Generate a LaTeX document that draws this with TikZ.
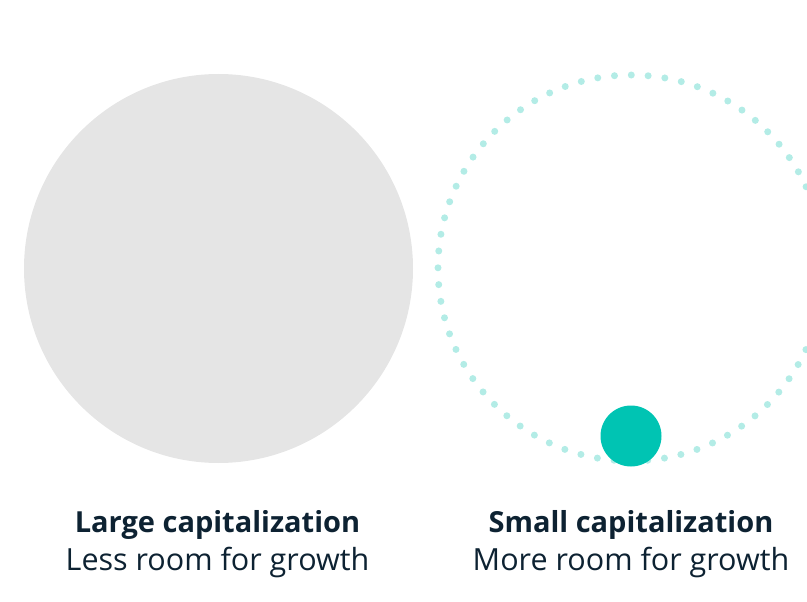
\documentclass[tikz,border=0pt]{standalone}
\usepackage{fontspec}
\setmainfont{Open Sans}
\definecolor{inkblue}{HTML}{0D2232}
\definecolor{bigfill}{HTML}{E5E5E5}
\definecolor{ringteal}{HTML}{B3ECE6}
\definecolor{dotteal}{HTML}{00C4B3}
\begin{document}
\begin{tikzpicture}[x=1pt,y=-1pt,
  title/.style={anchor=base,font=\fontsize{29}{34}\selectfont\bfseries,text=inkblue,inner sep=0pt},
  subtitle/.style={anchor=base,font=\fontsize{30.5}{36}\selectfont,text=inkblue,inner sep=0pt}]
  \useasboundingbox (0,0) rectangle (807,602);
  % large company
  \fill[bigfill] (218.5,268.5) circle[radius=194.5];
  % small company: dotted growth ring and the company itself
  \draw[ringteal,line width=7pt,line cap=round,dash pattern=on 0pt off 16.85pt] (631,268) circle[radius=193];
  \fill[dotteal] (631,436) circle[radius=30.5];
  % labels
  \node[title] (lt) at (217.5,532) {Large capitalization};
  \node[subtitle] (ls) at (217.5,570) {Less room for growth};
  \node[title] (st) at (631,532) {Small capitalization};
  \node[subtitle] (ss) at (631,570) {More room for growth};
\end{tikzpicture}
\end{document}
